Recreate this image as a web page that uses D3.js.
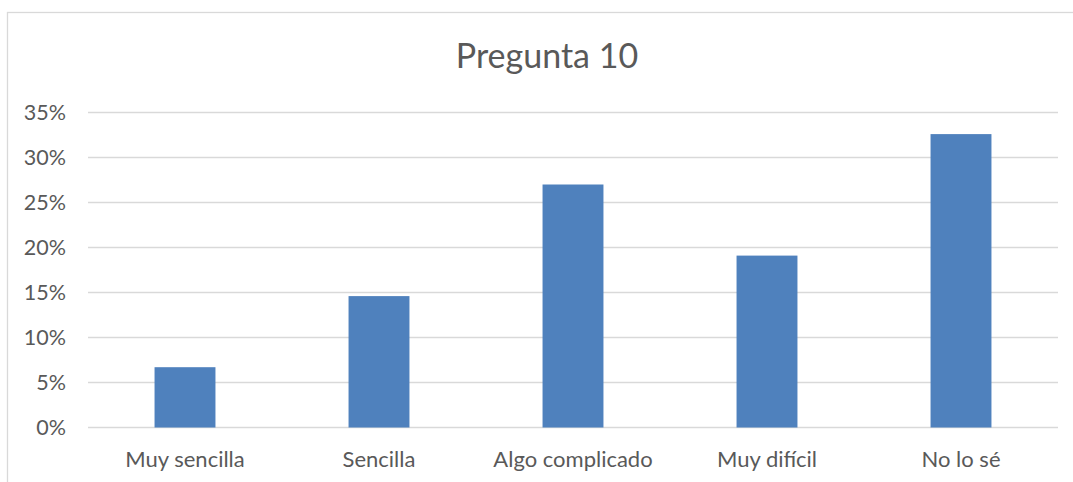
<!DOCTYPE html>
<html>
<head>
<meta charset="utf-8">
<script src="https://cdn.jsdelivr.net/npm/d3@7"></script>
<style>
  body { margin: 0; background: #fff; }
  svg text { font-family: Lato, "Open Sans", sans-serif; fill: #595959; }
</style>
</head>
<body>
<div id="chart"></div>
<script>
  const categories = ["Muy sencilla", "Sencilla", "Algo complicado", "Muy difícil", "No lo sé"];
  const values = [0.067, 0.146, 0.270, 0.191, 0.326];
  const yTicks = [0, 0.05, 0.10, 0.15, 0.20, 0.25, 0.30, 0.35];
  const title = "Pregunta 10";

  function drawChart() {
    const width = 1073;
    const height = 482;
    const margin = { top: 112.5, right: 15, bottom: 54.5, left: 88 };

    const data = categories.map((c, i) => ({ cat: c, val: values[i] }));

    const svg = d3.select("#chart")
      .append("svg")
      .attr("width", width)
      .attr("height", height);

    // chart frame (cut off at right and bottom like the original)
    svg.append("rect")
      .attr("x", 7.5)
      .attr("y", 12.5)
      .attr("width", width + 10)
      .attr("height", height + 10)
      .attr("fill", "none")
      .attr("stroke", "#d9d9d9")
      .attr("stroke-width", 1.3);

    const x = d3.scaleBand()
      .domain(categories)
      .range([margin.left, width - margin.right])
      .paddingInner(0.686)
      .paddingOuter(0.343);

    const y = d3.scaleLinear()
      .domain([0, 0.35])
      .range([height - margin.bottom, margin.top]);

    // gridlines
    svg.append("g")
      .selectAll("line")
      .data(yTicks)
      .join("line")
      .attr("x1", margin.left)
      .attr("x2", width - margin.right)
      .attr("y1", d => y(d))
      .attr("y2", d => y(d))
      .attr("stroke", "#d9d9d9")
      .attr("stroke-width", 1.3);

    // bars
    svg.append("g")
      .selectAll("rect")
      .data(data)
      .join("rect")
      .attr("x", d => x(d.cat))
      .attr("y", d => y(d.val))
      .attr("width", x.bandwidth())
      .attr("height", d => y(0) - y(d.val))
      .attr("fill", "#4f81bd");

    // y axis labels
    const yAxis = svg.append("g")
      .attr("transform", `translate(${margin.left - 22},0)`)
      .call(d3.axisLeft(y).tickValues(yTicks).tickFormat(d3.format(".0%")).tickSize(0).tickPadding(0));
    yAxis.select(".domain").remove();
    yAxis.selectAll("text")
      .style("font-size", "21.5px")
      .attr("fill", "#595959");

    // x axis labels
    const xAxis = svg.append("g")
      .attr("transform", `translate(0,${y(0)})`)
      .call(d3.axisBottom(x).tickSize(0).tickPadding(23.5));
    xAxis.select(".domain").remove();
    xAxis.selectAll("text")
      .attr("dy", 0)
      .attr("y", 39)
      .style("font-size", "22px")
      .attr("fill", "#595959");

    svg.append("text")
      .attr("x", 547)
      .attr("y", 68)
      .attr("text-anchor", "middle")
      .style("font-size", "34px")
      .text(title);
  }

  drawChart();
</script>
</body>
</html>
